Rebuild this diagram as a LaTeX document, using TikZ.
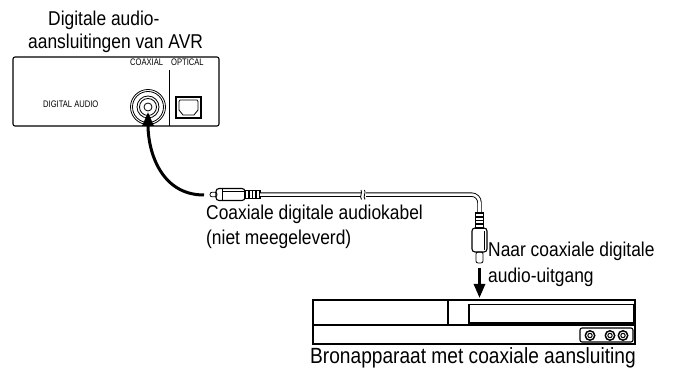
\documentclass[tikz,border=0pt]{standalone}
\usepackage{fontspec}
\setmainfont[FakeStretch=0.87]{Liberation Sans}
\newfontfamily\condfont[FakeStretch=0.8]{Liberation Sans}
\usetikzlibrary{arrows.meta}
\begin{document}
\begin{tikzpicture}[x=1pt,y=-1pt,
  lbl/.style={inner sep=0pt, font=\fontsize{20}{22}\selectfont},
  caplbl/.style={inner sep=0pt, font=\fontsize{22}{24}\selectfont},
  tinylbl/.style={inner sep=0pt, font=\condfont\fontsize{9.5}{10}\selectfont},
  outl/.style={line width=1.1pt},
  thinl/.style={line width=0.8pt},
  bigarrow/.style={line width=3pt, -{Triangle[length=14pt,width=11pt]}},
  cablestyle/.style={double=white, double distance=2.6pt, line width=0.9pt}
]
\useasboundingbox (0,0) rectangle (673,371);

% ---- top labels
\node[lbl, anchor=base west] (t1) at (48,26) {Digitale audio-};
\node[lbl, anchor=base west] (t2) at (28,49) {aansluitingen van AVR};

% ---- AVR panel
\draw[outl, rounded corners=2pt] (13,57) rectangle (219,126);
\draw[thinl] (169,70) -- (169,126);
\node[tinylbl, anchor=base west] (lcoax) at (130,66) {COAXIAL};
\node[tinylbl, anchor=base west] (lopt) at (171,66) {OPTICAL};
\node[tinylbl, anchor=base west] (ldig) at (43,108) {DIGITAL AUDIO};
% coaxial jack
\coordinate (jack) at (148,107);
\foreach \r in {17.5,15.5,11,8.5,4} \draw[thinl] (jack) circle (\r);
% optical jack
\draw[outl] (176,97) rectangle (201,118);
\draw[thinl] (180,100) -- (197,100) -- (198,101.5) -- (198,110) -- (194,115) -- (183,115) -- (179,110) -- (179,101.5) -- cycle;

% ---- curved arrow from plug to jack
\coordinate (plugend) at (204,195);
\coordinate (jacktip) at (148,112);
\draw[bigarrow] (plugend) .. controls (160,195) and (148,150) .. (jacktip);

% ---- left plug
\draw[thinl, rounded corners=2pt] (210,192.3) rectangle (217,196.8);
\draw[outl, rounded corners=3pt] (216,188.5) rectangle (245,200.5);
\draw[thinl] (222,189) -- (222,200);
\draw[thinl] (223,191.5) -- (244,191.5);
\draw[outl] (245,190.5) rectangle (260,198.5);
\foreach \x in {249,252.5,256} \draw[line width=1.4pt] (\x,190.5) -- (\x,198.5);

% ---- cable
\coordinate (cabA) at (260,194.6);
\coordinate (cabB) at (479.5,213);
\draw[cablestyle, rounded corners=8pt] (cabA) -- (479.5,194.6) -- (cabB);
% break mark
\fill[white] (360.5,190) rectangle (366,199);
\draw[thinl] (361,190) .. controls (363,193) and (359,196) .. (361.5,199.5);
\draw[thinl] (364.5,190) .. controls (366.5,193) and (362.5,196) .. (365,199.5);

% ---- bottom plug
\draw[outl] (475.5,213) rectangle (483.5,228);
\foreach \y in {217,220.5,224} \draw[line width=1.4pt] (475.5,\y) -- (483.5,\y);
\draw[outl, rounded corners=3pt] (472,228) rectangle (487,252);
\draw[thinl] (484,231) -- (484,250);
\draw[thinl, rounded corners=2pt] (476,252) rectangle (483,263);

% ---- down arrow
\coordinate (dnA) at (479.5,268);
\coordinate (dnB) at (479.5,298);
\draw[bigarrow] (dnA) -- (dnB);

% ---- labels
\node[lbl, anchor=base west] (c1) at (206,220) {Coaxiale digitale audiokabel};
\node[lbl, anchor=base west] (c2) at (206,245) {(niet meegeleverd)};
\node[lbl, anchor=base west] (n1) at (488,257) {Naar coaxiale digitale};
\node[lbl, anchor=base west] (n2) at (488,283) {audio-uitgang};

% ---- source device
\draw[outl] (313,300) rectangle (635,344);
\draw[outl] (313,325) -- (635,325);
\draw[outl] (448,300) -- (448,325);
\draw[thinl] (469,304) rectangle (633,323);
\draw[line width=1.8pt] (469,304) -- (469,323) -- (633,323);
\draw[outl, rounded corners=2pt] (580,328) rectangle (633,342);
\foreach \x in {590,610,623} {
  \fill (\x,335.5) circle (5.5);
  \fill[white] (\x,335.5) circle (3.8);
  \draw[line width=1pt] (\x,335.5) circle (2.2);
}
\node[caplbl, anchor=base] (cap) at (473,364) {Bronapparaat met coaxiale aansluiting};
\end{tikzpicture}
\end{document}
